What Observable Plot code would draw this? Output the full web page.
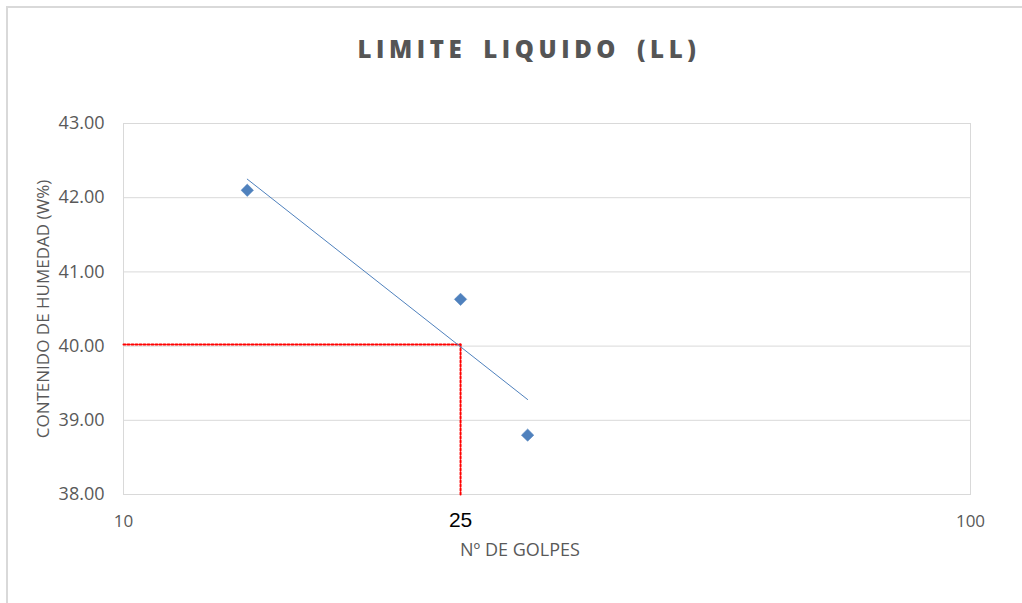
<!DOCTYPE html>
<html>
<head>
<meta charset="utf-8">
<script src="https://cdn.jsdelivr.net/npm/d3@7"></script>
<script src="https://cdn.jsdelivr.net/npm/@observablehq/plot@0.6"></script>
<style>
  html, body { margin: 0; padding: 0; background: #fff; overflow: hidden; }
  #wrap { position: relative; width: 1022px; height: 603px; overflow: hidden; }
  #border { position: absolute; left: 6px; top: 6px; width: 1100px; height: 700px; border: 2px solid #d9d9d9; box-sizing: border-box; }
  #title { position: absolute; left: 0; top: 0; width: 1058px; height: 90px; text-align: center; line-height: 1;
           font-family: "Open Sans", sans-serif; font-weight: 800; font-size: 24px; letter-spacing: 4.6px; color: #555; padding-top: 37px; box-sizing: border-box; word-spacing: 6px; }
  #chart { position: absolute; left: 0; top: 90px; }
</style>
</head>
<body>
<div id="wrap">
  <div id="border"></div>
  <div id="title">LIMITE LIQUIDO (LL)</div>
  <div id="chart"></div>
</div>
<script>
// Data
const golpes = [14, 25, 30];
const humedad = [42.10, 40.63, 38.80];
const trendGolpes = [14, 30];
const trendHumedad = [42.25, 39.28];
const llGolpes = 25;
const llHumedad = 40.02;
const yTicks = [38, 39, 40, 41, 42, 43];
const xTicks = [10, 100];
const xLabel = "Nº DE GOLPES";
const yLabel = "CONTENIDO DE HUMEDAD (W%)";

const points = golpes.map((g, i) => ({g, h: humedad[i]}));
const trend = trendGolpes.map((g, i) => ({g, h: trendHumedad[i]}));
const llH = [{g: 10, h: llHumedad}, {g: llGolpes, h: llHumedad}];
const llV = [{g: llGolpes, h: llHumedad}, {g: llGolpes, h: 38}];

const blue = "#4F81BD";
const grey = "#595959";

const chart = Plot.plot({
  width: 1022,
  height: 513,
  marginLeft: 123,
  marginRight: 52,
  marginTop: 33,
  marginBottom: 109,
  style: {fontFamily: "Open Sans, sans-serif", background: "transparent", overflow: "visible"},
  x: {type: "log", domain: [10, 100]},
  y: {domain: [38, 43]},
  marks: [
    Plot.gridY(yTicks, {stroke: "#d9d9d9", strokeOpacity: 1, strokeWidth: 1}),
    Plot.frame({stroke: "#d9d9d9", strokeWidth: 1}),
    Plot.axisY(yTicks, {tickSize: 0, tickPadding: 19, tickFormat: d3.format(".2f"), fontSize: 18, fill: grey, label: null}),
    Plot.axisX(xTicks, {tickSize: 0, tickPadding: 20, tickFormat: d => String(d), fontSize: 17, fill: grey, label: null}),
    Plot.axisX([llGolpes], {tickSize: 0, tickPadding: 18, tickFormat: d => String(d), fontSize: 21, fill: "#000", fontFamily: "Liberation Sans, Arial, sans-serif", label: null}),
    Plot.line(llH, {x: "g", y: "h", stroke: "#ff0000", strokeWidth: 2, strokeDasharray: "2,2"}),
    Plot.line(llV, {x: "g", y: "h", stroke: "#ff0000", strokeWidth: 2, strokeDasharray: "2,2"}),
    Plot.line(trend, {x: "g", y: "h", stroke: blue, strokeWidth: 1}),
    Plot.dot(points, {x: "g", y: "h", symbol: "diamond2", r: 5.6, fill: blue, stroke: blue, strokeWidth: 0.5}),
    Plot.text([xLabel], {frameAnchor: "bottom", dx: -27, dy: 61, text: d => d, fontSize: 18, fill: grey}),
    Plot.text([yLabel], {frameAnchor: "left", textAnchor: "middle", dx: -80, rotate: -90, text: d => d, fontSize: 17, fill: grey})
  ]
});
document.getElementById("chart").appendChild(chart);
</script>
</body>
</html>
